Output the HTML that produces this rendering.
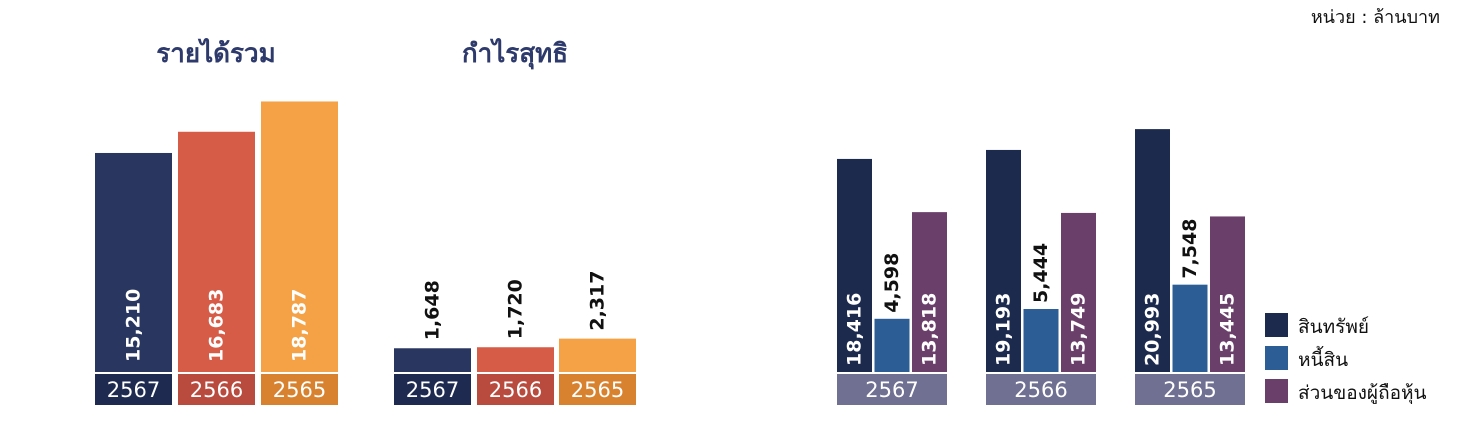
<!DOCTYPE html>
<html><head><meta charset="utf-8"><style>
body{margin:0;background:#fff;width:1465px;height:427px;overflow:hidden}
svg{display:block;font-family:"DejaVu Sans","Liberation Sans","Noto Sans CJK SC",sans-serif}
</style></head><body>
<svg id="c" width="1465" height="427"></svg>
<script>
const years=["2567","2566","2565"];
const revenue=[15210,16683,18787];
const profit=[1648,1720,2317];
const assets=[18416,19193,20993];
const liabilities=[4598,5444,7548];
const equity=[13818,13749,13445];
const legendLabels=["สินทรัพย์","หนี้สิน","ส่วนของผู้ถือหุ้น"];
const NS="http://www.w3.org/2000/svg";
const svg=document.getElementById('c');
function mk(tag,attrs,name,parent){const e=document.createElementNS(NS,tag);for(const k in attrs)e.setAttribute(k,attrs[k]);


(parent||svg).appendChild(e);return e;}
function fmt(v){return v.toLocaleString('en-US');}
const base=372;
const y1=v=>base-v*0.0144;
const y2=v=>base-v*0.01157;
function txt(x,y,s,attrs,name){const t=mk('text',Object.assign({x:x,y:y},attrs),name);t.textContent=s;return t;}
function vlabel(x,y,s,fill,name){const t=mk('text',{x:0,y:0,transform:`translate(${x},${y}) rotate(-90)`,fill:fill,'font-size':19,'font-weight':'bold','dominant-baseline':'central'},name);t.textContent=s;return t;}
// titles
txt(216,62,"รายได้รวม",{'text-anchor':'middle','font-size':26,'font-weight':'bold',fill:'#2d3a6b'},'revenue-title');
txt(515,62,"กำไรสุทธิ",{'text-anchor':'middle','font-size':26,'font-weight':'bold',fill:'#2d3a6b'},'profit-title');
txt(1440,23,"หน่วย : ล้านบาท",{'text-anchor':'end','font-size':18,fill:'#111'},'unit-label');
const fills=['#293760','#d65c47','#f4a245'];
const boxes=['#1e2a50','#b84a3e','#d8822f'];
// revenue
const revX=[95,178,261];
revenue.forEach((v,i)=>{const x=revX[i],yt=y1(v);
mk('rect',{x:x,y:yt,width:77,height:base-yt,fill:fills[i]},'revenue-bar-'+years[i]);
vlabel(x+38.5,362,fmt(v),'#fff','revenue-value-'+years[i]).setAttribute('text-anchor','start');
mk('rect',{x:x,y:374,width:77,height:31,fill:boxes[i]},'revenue-year-box');
txt(x+38.5,397,years[i],{'text-anchor':'middle','font-size':21,fill:'#fff'},'revenue-year-label');});
// profit
const proX=[394,477,559];
profit.forEach((v,i)=>{const x=proX[i],yt=y1(v);
mk('rect',{x:x,y:yt,width:77,height:base-yt,fill:fills[i]},'profit-bar-'+years[i]);
vlabel(x+38.5,yt-8,fmt(v),'#111','profit-value-'+years[i]).setAttribute('text-anchor','start');
mk('rect',{x:x,y:374,width:77,height:31,fill:boxes[i]},'profit-year-box');
txt(x+38.5,397,years[i],{'text-anchor':'middle','font-size':21,fill:'#fff'},'profit-year-label');});
// balance
const gX=[837,986,1135];
const bcol=['#1c2a4e','#2d5d95','#6a3f6a'];
years.forEach((yr,i)=>{const gx=gX[i];
[assets[i],liabilities[i],equity[i]].forEach((v,j)=>{const x=gx+j*37.5,yt=y2(v);
mk('rect',{x:x,y:yt,width:35,height:base-yt,fill:bcol[j]},'balance-bar-'+yr+'-'+j);
if(j==1){vlabel(x+17.5,yt-6,fmt(v),'#111','liability-value-'+yr).setAttribute('text-anchor','start');}
else{vlabel(x+17.5,366,fmt(v),'#fff','balance-value-'+yr+'-'+j).setAttribute('text-anchor','start');}});
mk('rect',{x:gx,y:374,width:110,height:31,fill:'#6f7092'},'balance-year-box');
txt(gx+55,397,yr,{'text-anchor':'middle','font-size':21,fill:'#fff'},'balance-year-label');});
legendLabels.forEach((l,j)=>{const y=313+j*33;
mk('rect',{x:1265,y:y,width:23,height:24,fill:bcol[j]},'legend-swatch');
txt(1298,y+20,l,{'font-size':19,fill:'#111'},'legend-entry');});
</script>
</body></html>
